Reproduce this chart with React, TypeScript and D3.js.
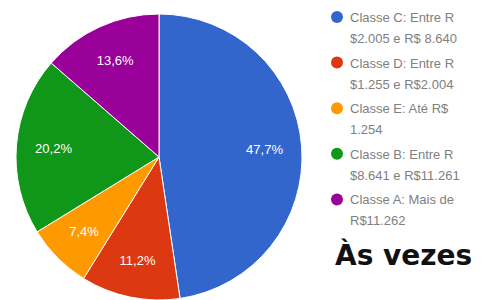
import { useEffect, useRef } from "react";
import * as d3 from "d3";

const categories = ["Classe C", "Classe D", "Classe E", "Classe B", "Classe A"];
const values = [47.7, 11.2, 7.4, 20.2, 13.6];
const sliceLabels = ["47,7%", "11,2%", "7,4%", "20,2%", "13,6%"];
const legendLines = [
  ["Classe C: Entre R", "$2.005 e R$ 8.640"],
  ["Classe D: Entre R", "$1.255 e R$2.004"],
  ["Classe E: Até R$", "1.254"],
  ["Classe B: Entre R", "$8.641 e R$11.261"],
  ["Classe A: Mais de", "R$11.262"],
];
const colors = ["#3366cc", "#dc3912", "#ff9900", "#109618", "#990099"];

const App = () => {
  const svgRef = useRef<SVGSVGElement | null>(null);

  useEffect(() => {
    // Clear previous content
    d3.select(svgRef.current).selectAll("*").remove();

    const width = 481;
    const height = 300;
    const cx = 159;
    const cy = 157;
    const radius = 143;

    const svg = d3
      .select(svgRef.current)
      .attr("width", width)
      .attr("height", height)
      .style("position", "absolute")
      .style("left", "0px")
      .style("top", "0px")
      .style("background", "#fff");

    // Pie
    const pie = d3
      .pie<number>()
      .sort(null)
      .value((d) => d);
    const arcs = pie(values);

    const arc = d3
      .arc<d3.PieArcDatum<number>>()
      .innerRadius(0)
      .outerRadius(radius);

    const labelArc = d3
      .arc<d3.PieArcDatum<number>>()
      .innerRadius(radius * 0.74)
      .outerRadius(radius * 0.74);

    const g = svg.append("g").attr("transform", `translate(${cx},${cy})`);

    g.selectAll("path")
      .data(arcs)
      .join("path")
      .attr("d", arc)
      .attr("fill", (_, i) => colors[i])
      .attr("stroke", "#fff")
      .attr("stroke-width", 1);

    g.selectAll("text")
      .data(arcs)
      .join("text")
      .attr("transform", (d) => `translate(${labelArc.centroid(d)})`)
      .attr("text-anchor", "middle")
      .attr("dy", "0.35em")
      .attr("fill", "#fff")
      .style("font-family", "Arial, 'Liberation Sans', sans-serif")
      .style("font-size", "13px")
      .text((_, i) => sliceLabels[i]);

    // Legend
    const legend = svg
      .append("g")
      .style("font-family", "Arial, 'Liberation Sans', sans-serif")
      .style("font-size", "13px");

    const item = legend
      .selectAll("g")
      .data(categories)
      .join("g")
      .attr("transform", (_, i) => `translate(337,${17 + i * 45.6})`);

    item
      .append("circle")
      .attr("r", 6)
      .attr("fill", (_, i) => colors[i]);

    item
      .append("text")
      .attr("y", 5)
      .attr("fill", "#808080")
      .selectAll("tspan")
      .data((_, i) => legendLines[i])
      .join("tspan")
      .attr("x", 13)
      .attr("dy", (_, j) => (j === 0 ? 0 : 21))
      .text((d) => d);

    // Overlapping caption
    svg
      .append("text")
      .attr("x", 335)
      .attr("y", 265)
      .attr("fill", "#111")
      .style("font-family", "'DejaVu Sans', sans-serif")
      .style("font-weight", "bold")
      .style("font-size", "28px")
      .text("Às vezes");
  }, []);

  return <svg ref={svgRef}></svg>;
};

export default App;
